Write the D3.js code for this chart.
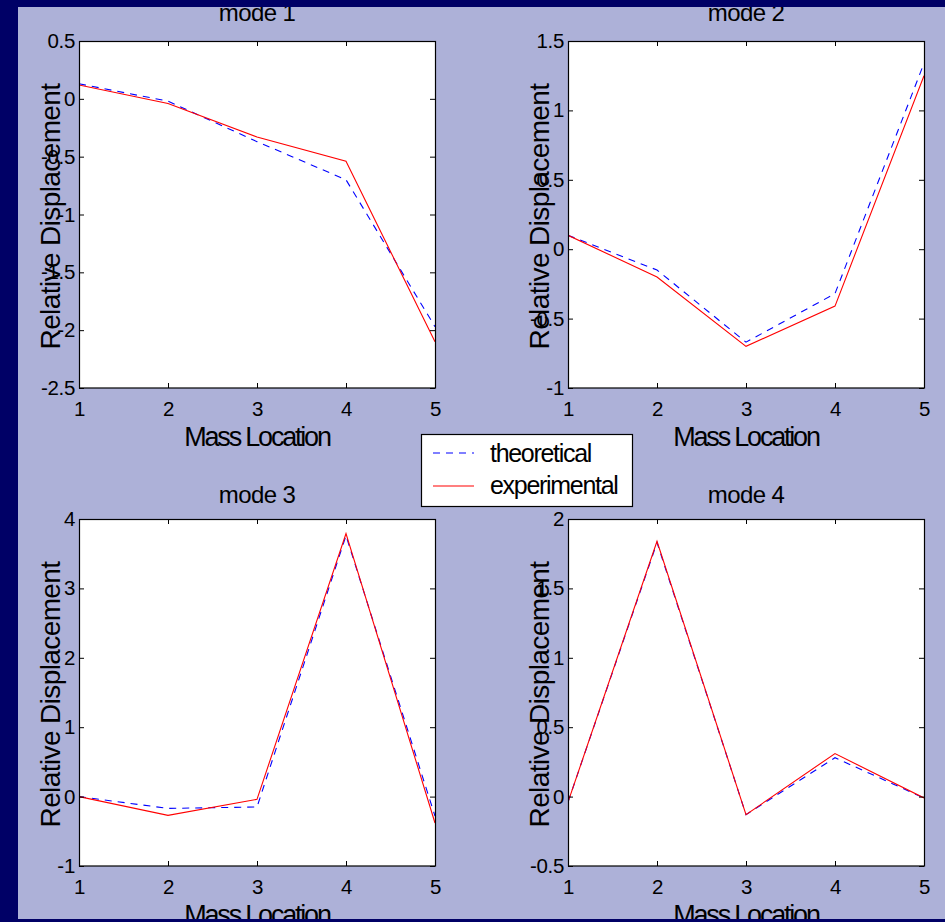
<!DOCTYPE html>
<html>
<head>
<meta charset="utf-8">
<script src="https://cdn.jsdelivr.net/npm/d3@7"></script>
<style>
  html, body { margin: 0; padding: 0; background: #adb1d8; }
  svg { display: block; }
  text { font-family: "Liberation Sans", Arial, Helvetica, sans-serif; fill: #000; }
</style>
</head>
<body>
<svg id="fig" width="945" height="922"></svg>
<script>
// Mode shapes: relative displacement at each mass location
const massLocation = [1, 2, 3, 4, 5];

const mode1Theoretical  = [0.13, -0.02, -0.37, -0.70, -1.97];
const mode1Experimental = [0.12, -0.04, -0.33, -0.54, -2.10];

const mode2Theoretical  = [0.10, -0.15, -0.67, -0.32, 1.34];
const mode2Experimental = [0.10, -0.20, -0.70, -0.41, 1.25];

const mode3Theoretical  = [0.00, -0.17, -0.15, 3.76, -0.28];
const mode3Experimental = [0.00, -0.27, -0.04, 3.79, -0.38];

const mode4Theoretical  = [-0.04, 1.83, -0.13, 0.28, -0.01];
const mode4Experimental = [-0.04, 1.84, -0.13, 0.31, -0.01];

// y-axis ticks (value / label) for each mode
const mode1Ticks = [-2.5, -2, -1.5, -1, -0.5, 0, 0.5];
const mode1TickLabels = ["-2.5", "-2", "-1.5", "-1", "-0.5", "0", "0.5"];
const mode2Ticks = [-1, -0.5, 0, 0.5, 1, 1.5];
const mode2TickLabels = ["-1", "-0.5", "0", "0.5", "1", "1.5"];
const mode3Ticks = [-1, 0, 1, 2, 3, 4];
const mode3TickLabels = ["-1", "0", "1", "2", "3", "4"];
const mode4Ticks = [-0.5, 0, 0.5, 1, 1.5, 2];
const mode4TickLabels = ["-0.5", "0", "0.5", "1", "1.5", "2"];
const xTickLabels = ["1", "2", "3", "4", "5"];

const modeTitles = ["mode 1", "mode 2", "mode 3", "mode 4"];
const seriesNames = ["theoretical", "experimental"];

const panels = [
  { title: modeTitles[0], theo: mode1Theoretical, exp: mode1Experimental, ticks: mode1Ticks, labels: mode1TickLabels, left: 79,  top: 41,  titleGap: 20 },
  { title: modeTitles[1], theo: mode2Theoretical, exp: mode2Experimental, ticks: mode2Ticks, labels: mode2TickLabels, left: 568, top: 41,  titleGap: 20 },
  { title: modeTitles[2], theo: mode3Theoretical, exp: mode3Experimental, ticks: mode3Ticks, labels: mode3TickLabels, left: 79,  top: 519, titleGap: 16 },
  { title: modeTitles[3], theo: mode4Theoretical, exp: mode4Experimental, ticks: mode4Ticks, labels: mode4TickLabels, left: 568, top: 519, titleGap: 16 }
];

const W = 356, H = 347;
const BLUE = "#0000ff", RED = "#ff0000";
const DASH = "7,6";

const svg = d3.select("#fig");
svg.append("rect").attr("width", 945).attr("height", 922).attr("fill", "#adb1d8");

panels.forEach((p, i) => {
  const x = d3.scaleLinear().domain([massLocation[0], massLocation[massLocation.length - 1]]).range([0, W]);
  const y = d3.scaleLinear().domain([p.ticks[0], p.ticks[p.ticks.length - 1]]).range([H, 0]);

  const g = svg.append("g").attr("transform", `translate(${p.left},${p.top})`);

  g.append("rect").attr("width", W).attr("height", H).attr("fill", "#fff");

  const clipId = "clip" + i;
  g.append("clipPath").attr("id", clipId)
    .append("rect").attr("width", W).attr("height", H);

  const line = d3.line().x((d, k) => x(massLocation[k])).y(d => y(d));

  const plot = g.append("g").attr("clip-path", `url(#${clipId})`);
  plot.append("path").datum(p.theo)
    .attr("d", line).attr("fill", "none")
    .attr("stroke", BLUE).attr("stroke-width", 1.1).attr("stroke-dasharray", DASH);
  plot.append("path").datum(p.exp)
    .attr("d", line).attr("fill", "none")
    .attr("stroke", RED).attr("stroke-width", 1.1);

  // axes with inward ticks on all four sides
  const fmtY = d => p.labels[p.ticks.indexOf(d)];
  const fmtX = d => xTickLabels[massLocation.indexOf(d)];

  const bottom = g.append("g").attr("transform", `translate(0,${H})`)
    .call(d3.axisBottom(x).tickValues(massLocation).tickFormat(fmtX)
      .tickSizeInner(-5).tickSizeOuter(0).tickPadding(13));
  const left = g.append("g")
    .call(d3.axisLeft(y).tickValues(p.ticks).tickFormat(fmtY)
      .tickSizeInner(-5).tickSizeOuter(0).tickPadding(4));
  const top = g.append("g")
    .call(d3.axisTop(x).tickValues(massLocation).tickFormat("")
      .tickSizeInner(-5).tickSizeOuter(0));
  const right = g.append("g").attr("transform", `translate(${W},0)`)
    .call(d3.axisRight(y).tickValues(p.ticks).tickFormat("")
      .tickSizeInner(-5).tickSizeOuter(0));

  [bottom, left, top, right].forEach(a => {
    a.select(".domain").remove();
    a.selectAll("line").attr("stroke", "#000");
    a.selectAll("text")
      .attr("font-family", "Liberation Sans, Arial, sans-serif")
      .attr("font-size", 20.5).attr("letter-spacing", -0.3).attr("fill", "#000");
  });

  g.append("rect").attr("x", 0.5).attr("y", 0.5).attr("width", W).attr("height", H - 0.5)
    .attr("fill", "none").attr("stroke", "#000").attr("stroke-width", 1.2);

  g.append("text").attr("x", W / 2).attr("y", -p.titleGap)
    .attr("text-anchor", "middle").attr("font-size", 24).attr("letter-spacing", -0.6)
    .text(p.title);

  g.append("text").attr("x", W / 2).attr("y", H + 58)
    .attr("text-anchor", "middle").attr("font-size", 27).attr("letter-spacing", -2.2)
    .text("Mass Location");

  g.append("text")
    .attr("transform", `translate(-19,${H / 2 + 2}) rotate(-90)`)
    .attr("text-anchor", "middle").attr("font-size", 28).attr("letter-spacing", -0.6)
    .text("Relative Displacement");
});

// legend
const lg = svg.append("g").attr("transform", "translate(421,434)");
lg.append("rect").attr("x", 0.5).attr("y", 0.5).attr("width", 211).attr("height", 72)
  .attr("fill", "#fff").attr("stroke", "#000").attr("stroke-width", 1.2);
const legendItems = [
  { name: seriesNames[0], color: BLUE, dash: DASH, yy: 19, ty: 28 },
  { name: seriesNames[1], color: RED, dash: null, yy: 52, ty: 60 }
];
legendItems.forEach(it => {
  lg.append("line").attr("x1", 12).attr("x2", 53).attr("y1", it.yy).attr("y2", it.yy)
    .attr("stroke", it.color).attr("stroke-width", 1.1)
    .attr("stroke-dasharray", it.dash);
  lg.append("text").attr("x", 69).attr("y", it.ty)
    .attr("font-size", 25).attr("letter-spacing", -1.3).text(it.name);
});

// slide frame
const NAVY = "#000066";
svg.append("rect").attr("x", 0).attr("y", 0).attr("width", 945).attr("height", 7).attr("fill", NAVY);
svg.append("rect").attr("x", 0).attr("y", 0).attr("width", 18).attr("height", 922).attr("fill", NAVY);
svg.append("rect").attr("x", 0).attr("y", 919).attr("width", 945).attr("height", 3).attr("fill", NAVY);
</script>
</body>
</html>
